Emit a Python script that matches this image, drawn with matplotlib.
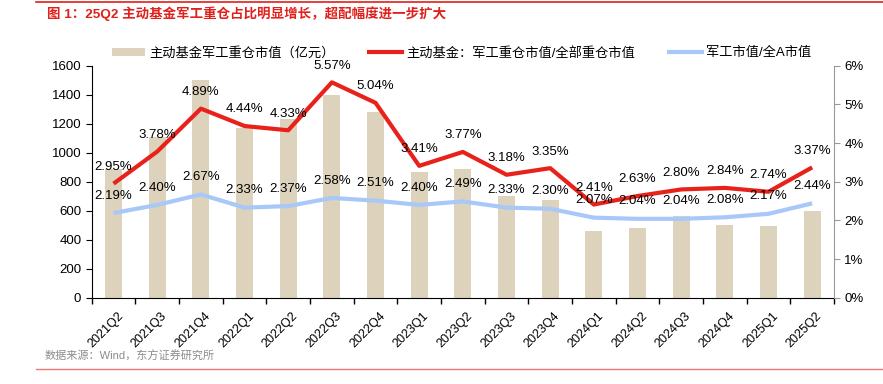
import numpy as np
import matplotlib
matplotlib.use('Agg')
import matplotlib.pyplot as plt
from matplotlib.patches import Patch
from matplotlib.lines import Line2D

plt.rcParams['font.family'] = ['Liberation Sans', 'Noto Sans CJK SC']
plt.rcParams['axes.unicode_minus'] = False

quarters = ['2021Q2', '2021Q3', '2021Q4', '2022Q1', '2022Q2', '2022Q3', '2022Q4',
            '2023Q1', '2023Q2', '2023Q3', '2023Q4', '2024Q1', '2024Q2', '2024Q3',
            '2024Q4', '2025Q1', '2025Q2']
mkt_value = [885, 1105, 1500, 1172, 1235, 1400, 1278, 869, 888, 703, 672,
             460, 481, 566, 501, 497, 600]
fund_share = [2.95, 3.78, 4.89, 4.44, 4.33, 5.57, 5.04, 3.41, 3.77, 3.18, 3.35,
              2.41, 2.63, 2.80, 2.84, 2.74, 3.37]
market_share = [2.19, 2.40, 2.67, 2.33, 2.37, 2.58, 2.51, 2.40, 2.49, 2.33, 2.30,
                2.07, 2.04, 2.04, 2.08, 2.17, 2.44]

BAR_C = '#DDD3BD'
RED_C = '#E8221B'
BLUE_C = '#A8C8F8'

fig = plt.figure(figsize=(8.83, 3.84), dpi=100)
ax1 = fig.add_axes([0.1039, 0.2247, 0.8406, 0.6042])
ax2 = ax1.twinx()

x = np.arange(len(quarters))
ax1.bar(x, mkt_value, width=0.39, color=BAR_C, zorder=1)
ax1.set_ylim(0, 1600)
ax1.set_yticks(np.arange(0, 1601, 200))
ax1.set_xlim(-0.5, len(quarters) - 0.5)

ax2.plot(x, market_share, color=BLUE_C, lw=3, zorder=3, solid_capstyle='butt')
ax2.plot(x, fund_share, color=RED_C, lw=3, zorder=4, solid_capstyle='butt')
ax2.set_ylim(0, 6)
ax2.set_yticks(np.arange(0, 7, 1))
ax2.set_yticklabels([f'{v}%' for v in range(7)])

for xi, v in zip(x, fund_share):
    ax2.annotate(f'{v:.2f}%', (xi, v), xytext=(0, 12), textcoords='offset points',
                 ha='center', va='center', fontsize=9.5, color='black', zorder=6)
for xi, v in zip(x, market_share):
    ax2.annotate(f'{v:.2f}%', (xi, v), xytext=(0, 12.5), textcoords='offset points',
                 ha='center', va='center', fontsize=9.5, color='black', zorder=6)

# x ticks at category boundaries, labels at centers
ax1.set_xticks(np.arange(-0.5, len(quarters), 1))
ax1.set_xticklabels([])
ax1.set_xticks(x + 0.08, minor=True)
ax1.set_xticklabels(quarters, minor=True, rotation=45, ha='right',
                    rotation_mode='anchor', fontsize=9)
ax1.tick_params(axis='x', which='major', direction='out', length=4, width=1)
ax1.tick_params(axis='x', which='minor', length=0, pad=9)
ax1.tick_params(axis='y', direction='out', length=4, labelsize=9.5)
ax2.tick_params(axis='y', direction='out', length=4, labelsize=9.5,
                color='#999999')

for a in (ax1, ax2):
    a.spines['top'].set_visible(False)
ax1.spines['right'].set_visible(False)
ax2.spines['left'].set_visible(False)
ax2.spines['bottom'].set_visible(False)
ax2.spines['right'].set_color('#999999')
ax1.spines['left'].set_color('black')
ax1.spines['bottom'].set_color('black')

handles = [
    Patch(facecolor=BAR_C, edgecolor='none', label='主动基金军工重仓市值（亿元）'),
    Line2D([], [], color=RED_C, lw=3, label='主动基金：军工重仓市值/全部重仓市值'),
    Line2D([], [], color=BLUE_C, lw=3, label='军工市值/全A市值'),
]
fig.legend(handles=handles, loc='center', bbox_to_anchor=(0.523, 0.862), ncol=3,
           frameon=False, fontsize=9.5, handlelength=2.5, handleheight=0.6,
           columnspacing=2.6, handletextpad=0.3)

fig.text(0.053, 0.965, '图 1：25Q2 主动基金军工重仓占比明显增长，超配幅度进一步扩大',
         fontsize=9.7, fontweight='bold', color='#E0201A', va='center', ha='left')
fig.text(0.051, 0.073, '数据来源：Wind，东方证券研究所', fontsize=8,
         color='#8C8C8C', va='center', ha='left')

fig.add_artist(Line2D([0.041, 1.0], [0.995, 0.995], color='#E0201A', lw=1.2))
fig.add_artist(Line2D([0.041, 1.0], [0.039, 0.039], color='#E77A75', lw=1.0))

fig.savefig('out.png', dpi=100)
